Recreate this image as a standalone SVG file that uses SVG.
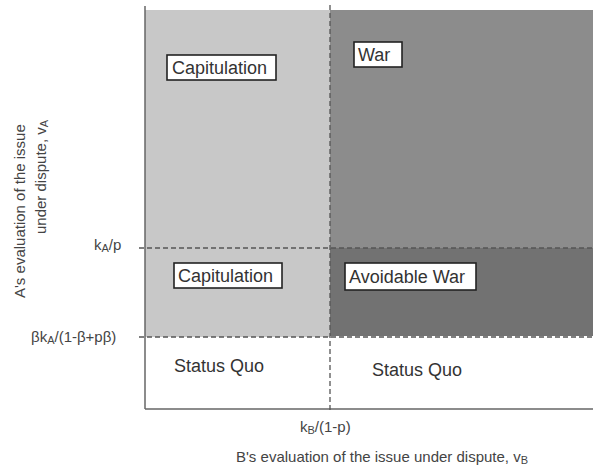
<svg xmlns="http://www.w3.org/2000/svg" width="596" height="465" viewBox="0 0 596 465">
<style>
text{font-family:"Liberation Sans",Arial,sans-serif;fill:#333}
.lbl{font-size:18px}
.ax{font-size:15px;fill:#444}
.box{fill:#fff;stroke:#222;stroke-width:1.6}
.dash{stroke:#555;stroke-width:1.3;stroke-dasharray:5,3;fill:none}
.axis{stroke:#666;stroke-width:1.5;fill:none}
</style>
<rect width="596" height="465" fill="#fff"/>
<g id="regions">
<rect id="capitulation-region" x="145" y="10" width="185" height="327" fill="#c8c8c8"/>
<rect id="war-region" x="330" y="10" width="263" height="238" fill="#8c8c8c"/>
<rect id="avoidable-war-region" x="330" y="248" width="263" height="88" fill="#727272"/>
</g>
<g id="connectors">
<line class="axis" x1="145" y1="6" x2="145" y2="409"/>
<line class="axis" x1="145" y1="409" x2="593" y2="409"/>
<line class="dash" x1="330" y1="5" x2="330" y2="413"/>
<line class="dash" x1="139" y1="248" x2="593" y2="248"/>
<line class="dash" x1="139" y1="337" x2="593" y2="337"/>
</g>
<g id="node-capitulation-1">
<rect class="box" x="167" y="55" width="109" height="25"/>
<text class="lbl" x="172" y="74">Capitulation</text>
</g>
<g id="node-war">
<rect class="box" x="354" y="42" width="48" height="25"/>
<text class="lbl" x="358" y="61">War</text>
</g>
<g id="node-capitulation-2">
<rect class="box" x="174" y="263" width="108" height="25"/>
<text class="lbl" x="178" y="282">Capitulation</text>
</g>
<g id="node-avoidable-war">
<rect class="box" x="345" y="263" width="131" height="27"/>
<text class="lbl" x="349" y="283">Avoidable War</text>
</g>
<g id="node-status-quo-1">
<text class="lbl" x="174" y="372">Status Quo</text>
</g>
<g id="node-status-quo-2">
<text class="lbl" x="372" y="376">Status Quo</text>
</g>
<g id="axis-labels">
<text class="ax" x="94" y="250">k<tspan font-size="11" dy="2">A</tspan><tspan dy="-2">/p</tspan></text>
<text class="ax" x="31" y="342">βk<tspan font-size="11" dy="2">A</tspan><tspan dy="-2">/(1-β+pβ)</tspan></text>
<text class="ax" x="300" y="432">k<tspan font-size="11" dy="2">B</tspan><tspan dy="-2">/(1-p)</tspan></text>
<text class="ax" x="236" y="462">B's evaluation of the issue under dispute, v<tspan font-size="11" dy="2">B</tspan></text>
<text class="ax" transform="translate(25,298) rotate(-90)">A's evaluation of the issue</text>
<text class="ax" transform="translate(46,234) rotate(-90)">under dispute, v<tspan font-size="11" dy="2">A</tspan></text>
</g>
</svg>
